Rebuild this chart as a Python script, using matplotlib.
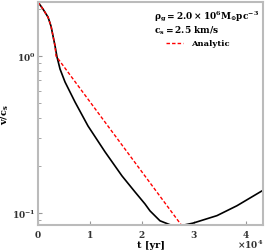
import matplotlib
matplotlib.use("Agg")
import matplotlib.pyplot as plt

# valeurs (t en annees, v/cs)
t_sim = [0, 962, 1923, 2500, 2885, 3269, 3654, 4231, 5192, 7115, 9615,
         12885, 16154, 18654, 20577, 21538, 23462, 25385, 27308, 29808,
         34423, 38269, 43077]
v_sim = [2.21, 1.99, 1.77, 1.55, 1.34, 1.16, 0.985, 0.826, 0.683, 0.509, 0.358,
         0.245, 0.172, 0.136, 0.114, 0.103, 0.089, 0.084, 0.0826, 0.086,
         0.096, 0.111, 0.138]

t_ana = [0, 962, 1923, 2500, 2885, 3269, 3460, 27690]
v_ana = [2.21, 1.99, 1.77, 1.55, 1.34, 1.16, 1.0, 0.0826]

plt.rcParams['font.family'] = 'DejaVu Serif'
plt.rcParams['font.weight'] = 'bold'
plt.rcParams['mathtext.fontset'] = 'dejavuserif'
plt.rcParams['mathtext.default'] = 'bf'
plt.rcParams['axes.formatter.use_mathtext'] = True

fig = plt.figure(figsize=(2.66, 2.51), dpi=100)
ax = fig.add_axes([0.143, 0.1, 0.846, 0.888])

ax.plot(t_sim, v_sim, color='black', lw=1.2)
ax.plot(t_ana, v_ana, color='red', lw=1.0, ls=(0, (2.5, 1.5)), label='Analytic')

ax.set_yscale('log')
ax.set_xlim(0, 43300)
ax.set_ylim(0.0838, 2.21)
ax.ticklabel_format(axis='x', style='sci', scilimits=(0, 0))
ax.xaxis.get_offset_text().set_visible(False)
ax.text(1.0, -0.055, r'$\mathregular{\times10^{4}}$', transform=ax.transAxes,
        ha='right', va='top', fontsize=6.5, color='#333333')

ax.set_xlabel('t [yr]', fontsize=7, fontweight='bold', labelpad=1)
ax.set_ylabel(r'$\mathbf{v/c_s}$', fontsize=7)
ax.yaxis.set_label_coords(-0.12, 0.5)

for s in ax.spines.values():
    s.set_color('#bbbbbb')
    s.set_linewidth(1.5)
ax.tick_params(which='both', direction='in', colors='#999999', labelcolor='#333333',
               labelsize=6.5, pad=2)
ax.tick_params(which='major', length=3)
ax.tick_params(which='minor', length=2)
for lab in ax.get_xticklabels() + ax.get_yticklabels():
    lab.set_fontweight('bold')

ax.text(0.516, 0.972, r'$\mathbf{\rho_g = 2.0 \times 10^6 M_{\odot} pc^{-3}}$' + '\n'
        + r'$\mathbf{c_s = 2.5\ km/s}$',
        transform=ax.transAxes, fontsize=6.5, va='top', ha='left', linespacing=1.1)
leg = ax.legend(loc='upper left', bbox_to_anchor=(0.569, 0.832), frameon=False,
                fontsize=6, handlelength=2.0, handletextpad=1.0,
                borderpad=0, borderaxespad=0)
for txt in leg.get_texts():
    txt.set_fontweight('bold')

fig.savefig('out.png', dpi=100)
